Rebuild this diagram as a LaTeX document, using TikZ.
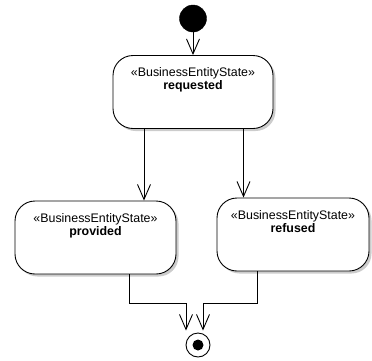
\documentclass[tikz,border=0pt]{standalone}
\usepackage{fontspec}
\setmainfont{Liberation Sans}
\usetikzlibrary{arrows.meta,shadows,calc}
\begin{document}
\begin{tikzpicture}[x=1pt,y=-1pt,
  statebox/.style={draw=black,line width=0.9pt,fill=white,rounded corners=20pt,
    minimum width=#1,minimum height=73pt,inner sep=0pt,
    drop shadow={shadow xshift=2.5pt,shadow yshift=-2.5pt,fill=black!40}},
  stlabel/.style={anchor=north,yshift=-12.5pt,align=center,inner sep=0pt,
    font={\fontsize{12.4}{13}\selectfont}},
  flow/.style={draw=black,line width=0.9pt,-{Straight Barb[length=15pt,width=13pt,line width=0.9pt]}},
  initst/.style={circle,fill=black,draw=black,minimum size=27pt,inner sep=0pt},
  finalst/.style={circle,fill=white,draw=black,line width=0.9pt,minimum size=24pt,inner sep=0pt},
  finaldot/.style={circle,fill=black,minimum size=11pt,inner sep=0pt}
]
\useasboundingbox (0,0) rectangle (372,360);
\node[initst] (init) at (193,18.5) {};
\node[statebox=160pt,label={[stlabel]north:«BusinessEntityState»\\\textbf{requested}}] (req) at (193,92) {};
\node[statebox=161pt,label={[stlabel]north:«BusinessEntityState»\\\textbf{provided}}] (prov) at (95.5,237.5) {};
\node[statebox=152pt,label={[stlabel]north:«BusinessEntityState»\\\textbf{refused}}] (ref) at (293,234.5) {};
\node[finalst] (final) at (198,345) {};
\node[finaldot] (fdot) at (final.center) {};
\draw[flow] (init) -- (req.north);
\draw[flow] ([xshift=-49pt]req.south) -- ([xshift=-49pt]req.south |- prov.north);
\draw[flow] ([xshift=50.5pt]req.south) -- ([xshift=50.5pt]req.south |- ref.north);
\coordinate (e1) at ([xshift=-12pt,yshift=2pt]final.north);
\coordinate (e2) at ([xshift=5pt,yshift=2pt]final.north);
\draw[flow] ([xshift=33.5pt]prov.south) -- ++(0,29) -| (e1);
\draw[flow] ([xshift=-36pt]ref.south) -- ++(0,32) -| (e2);
\end{tikzpicture}
\end{document}
